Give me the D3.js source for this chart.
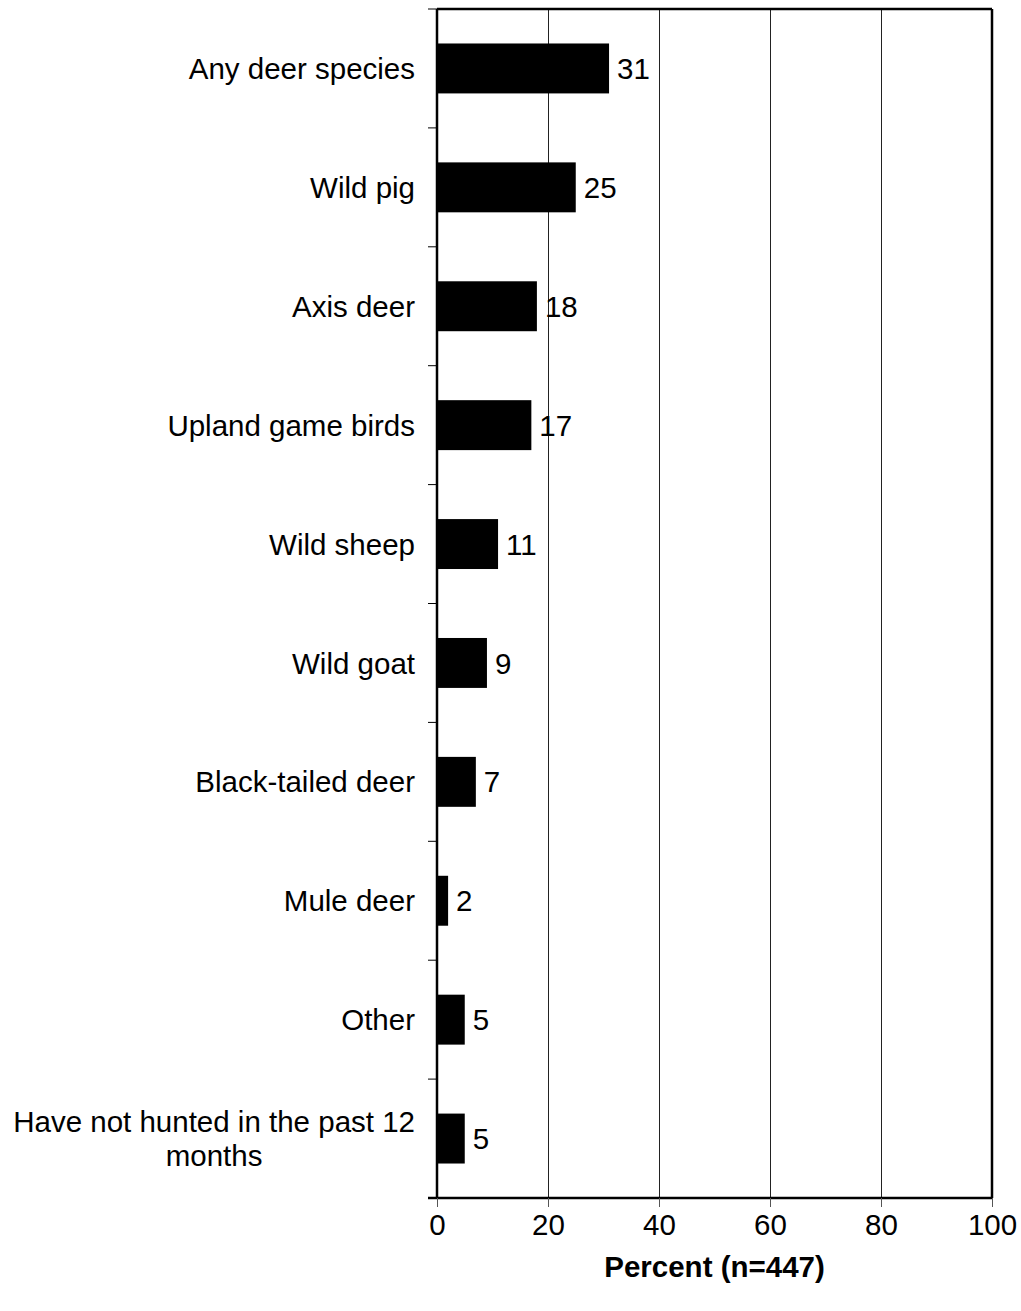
<!DOCTYPE html>
<html>
<head>
<meta charset="utf-8">
<script src="https://cdn.jsdelivr.net/npm/d3@7"></script>
<style>
  html, body { margin: 0; padding: 0; background: #fff; }
  svg { display: block; font-family: "Liberation Sans", Arial, sans-serif; }
</style>
</head>
<body>
<svg id="chart" width="1021" height="1311"></svg>
<script>
// Species hunted in the past 12 months (percent of respondents)
const categories = [
  "Any deer species",
  "Wild pig",
  "Axis deer",
  "Upland game birds",
  "Wild sheep",
  "Wild goat",
  "Black-tailed deer",
  "Mule deer",
  "Other",
  "Have not hunted in the past 12 months"
];
const values = [31, 25, 18, 17, 11, 9, 7, 2, 5, 5];
const xTicks = [0, 20, 40, 60, 80, 100];
const axisTitle = "Percent (n=447)";

const FS = 29.5;
const svg = d3.select("#chart");
const margin = { left: 437, right: 29, top: 9, bottom: 113 };
const W = 1021, H = 1311;
const plotW = W - margin.left - margin.right;
const plotH = H - margin.top - margin.bottom;

const g = svg.append("g").attr("transform", `translate(${margin.left},${margin.top})`);

const x = d3.scaleLinear().domain([0, 100]).range([0, plotW]);
const y = d3.scaleBand().domain(categories).range([0, plotH]).paddingInner(0.58).paddingOuter(0.29);

// vertical gridlines
g.selectAll("line.grid").data(xTicks.slice(1, -1)).enter().append("line")
  .attr("class", "grid")
  .attr("x1", d => Math.round(x(d)) + 0.5).attr("x2", d => Math.round(x(d)) + 0.5)
  .attr("y1", 0).attr("y2", plotH)
  .attr("stroke", "#222").attr("stroke-width", 1);

// bars
g.selectAll("rect.bar").data(values).enter().append("rect")
  .attr("class", "bar")
  .attr("x", x(0))
  .attr("y", (d, i) => y(categories[i]))
  .attr("width", d => x(d) - x(0))
  .attr("height", y.bandwidth())
  .attr("fill", "#000");

// value labels
g.selectAll("text.val").data(values).enter().append("text")
  .attr("class", "val")
  .attr("x", d => x(d) + 8)
  .attr("y", (d, i) => y(categories[i]) + y.bandwidth() / 2)
  .attr("dy", "0.36em")
  .attr("font-size", FS)
  .text(d => d);

// plot frame: top and right edges
g.append("line").attr("x1", 0).attr("x2", plotW).attr("y1", 0).attr("y2", 0)
  .attr("stroke", "#000").attr("stroke-width", 2.5);
g.append("line").attr("x1", plotW).attr("x2", plotW).attr("y1", 0).attr("y2", plotH)
  .attr("stroke", "#000").attr("stroke-width", 2.5);

// x axis
const xAxis = g.append("g").attr("transform", `translate(0,${plotH})`)
  .call(d3.axisBottom(x).tickValues(xTicks).tickSize(9).tickPadding(7).tickSizeOuter(0));
xAxis.select(".domain").attr("stroke", "#000").attr("stroke-width", 2.5).attr("d", `M-9,0H${plotW}`);
xAxis.selectAll(".tick line").attr("stroke", "#555").attr("stroke-width", 1);
xAxis.selectAll(".tick text").attr("font-size", FS).attr("fill", "#000")
  .attr("font-family", "Liberation Sans, Arial, sans-serif");

// y axis: ticks at category boundaries
const bounds = d3.range(categories.length + 1).map(i => i * plotH / categories.length);
g.append("line").attr("x1", 0).attr("x2", 0).attr("y1", 0).attr("y2", plotH)
  .attr("stroke", "#000").attr("stroke-width", 2.5);
g.selectAll("line.ytick").data(bounds).enter().append("line")
  .attr("class", "ytick")
  .attr("x1", -9).attr("x2", 0)
  .attr("y1", d => d).attr("y2", d => d)
  .attr("stroke", "#000").attr("stroke-width", 1);

// category labels (wrapped to fit left margin)
const labelRight = -22;
const maxLabelW = 415;
const cat = g.selectAll("text.cat").data(categories).enter().append("text")
  .attr("class", "cat")
  .attr("font-size", FS)
  .attr("fill", "#000");

cat.each(function(d) {
  const t = d3.select(this);
  const words = d.split(" ");
  const lines = [];
  let cur = [];
  const probe = t.append("tspan");
  words.forEach(w => {
    const test = cur.concat(w).join(" ");
    probe.text(test);
    if (probe.node().getComputedTextLength() > maxLabelW && cur.length) {
      lines.push(cur.join(" "));
      cur = [w];
    } else {
      cur.push(w);
    }
  });
  lines.push(cur.join(" "));
  probe.remove();
  const cy = y(d) + y.bandwidth() / 2;
  const lh = 34;
  if (lines.length === 1) {
    t.append("tspan").attr("x", labelRight).attr("y", cy).attr("dy", "0.36em")
      .attr("text-anchor", "end").text(lines[0]);
  } else {
    // multi-line labels are centred on the widest line
    const tmp = t.append("tspan").text(lines[0]);
    const w0 = tmp.node().getComputedTextLength();
    tmp.remove();
    const cx = labelRight - w0 / 2;
    lines.forEach((ln, k) => {
      t.append("tspan").attr("x", cx).attr("text-anchor", "middle")
        .attr("y", cy + (k - (lines.length - 1) / 2) * lh).attr("dy", "0.36em")
        .text(ln);
    });
  }
});

// axis title
svg.append("text")
  .attr("x", margin.left + plotW / 2)
  .attr("y", 1277)
  .attr("text-anchor", "middle")
  .attr("font-size", FS)
  .attr("font-weight", "bold")
  .text(axisTitle);
</script>
</body>
</html>
